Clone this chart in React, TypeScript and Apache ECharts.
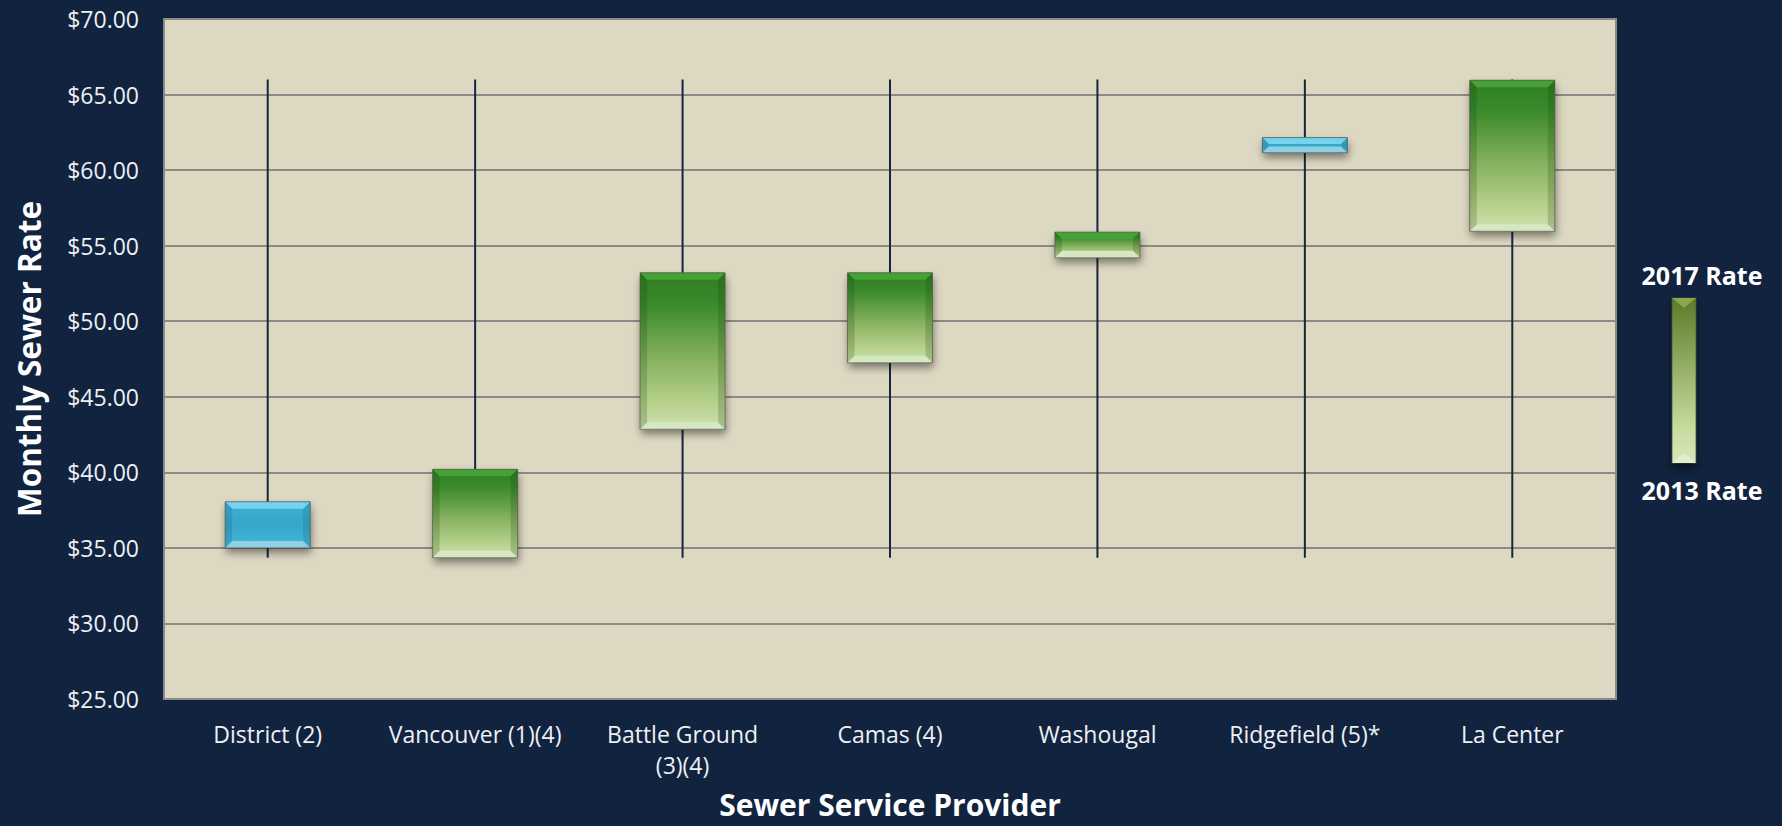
import React, { useEffect, useRef } from "react";
import * as echarts from "echarts";

const categories = [
  "District (2)",
  "Vancouver (1)(4)",
  "Battle Ground\n(3)(4)",
  "Camas (4)",
  "Washougal",
  "Ridgefield (5)*",
  "La Center",
];
const rate2013 = [38.05, 34.35, 42.85, 47.25, 54.2, 62.15, 55.95];
const rate2017 = [35.0, 40.2, 53.2, 53.2, 55.9, 61.15, 65.95];
const lowValues = [34.35, 34.35, 34.35, 34.35, 34.35, 34.35, 34.35];
const highValues = [66.0, 66.0, 66.0, 66.0, 66.0, 66.0, 66.0];
const yTicks = { min: 25, max: 70, interval: 5 };

const FONT = "'Open Sans', 'Noto Sans', sans-serif";

const grad = (stops: [number, string][]) => ({
  type: "linear",
  x: 0,
  y: 0,
  x2: 0,
  y2: 1,
  colorStops: stops.map(([offset, color]) => ({ offset, color })),
});

const GREEN = {
  body: grad([
    [0, "#2f7d22"],
    [0.2, "#3a8a2c"],
    [0.55, "#86b15e"],
    [0.85, "#b9d38f"],
    [1, "#cfe2b2"],
  ]),
  top: "#44a236",
  bottom: "#d6e8c2",
  side: "rgba(20,60,10,0.2)",
};
const BLUE = {
  body: grad([
    [0, "#3fb0d4"],
    [0.5, "#36a6c8"],
    [1, "#45b8dc"],
  ]),
  top: "#74d4f0",
  bottom: "#8fd0e4",
  side: "rgba(10,60,90,0.15)",
};

export default function App() {
  const ref = useRef<HTMLDivElement>(null);
  useEffect(() => {
    document.body.style.margin = "0";
    const chart = echarts.init(ref.current!, null, { renderer: "svg" });
    const data = categories.map((_, i) => [i, lowValues[i], highValues[i], rate2013[i], rate2017[i]]);

    const renderItem = (params: any, api: any) => {
      const idx = api.value(0);
      const low = api.value(1);
      const high = api.value(2);
      const o = api.value(3);
      const c = api.value(4);
      const pLow = api.coord([idx, low]);
      const pHigh = api.coord([idx, high]);
      const pO = api.coord([idx, o]);
      const pC = api.coord([idx, c]);
      const w = api.size([1, 0])[0] * 0.41;
      const px = pLow[0];
      const top = Math.min(pO[1], pC[1]);
      const bot = Math.max(pO[1], pC[1]);
      const h = bot - top;
      const left = px - w / 2;
      const right = px + w / 2;
      const b = Math.min(7, h / 2.4);
      const pal = c >= o ? GREEN : BLUE;
      return {
        type: "group",
        children: [
          {
            type: "line",
            shape: { x1: px, y1: pHigh[1], x2: px, y2: pLow[1] },
            style: { stroke: "#16263f", lineWidth: 2 },
          },
          {
            type: "rect",
            shape: { x: left, y: top, width: w, height: h },
            style: {
              fill: "#6d6d60",
              shadowBlur: 8,
              shadowColor: "rgba(0,0,0,0.45)",
              shadowOffsetX: 1,
              shadowOffsetY: 5,
            },
          },
          {
            type: "rect",
            shape: { x: left, y: top, width: w, height: h },
            style: { fill: pal.body },
          },
          {
            type: "polygon",
            shape: { points: [[left, top], [right, top], [right - b, top + b], [left + b, top + b]] },
            style: { fill: pal.top },
          },
          {
            type: "polygon",
            shape: { points: [[left, bot], [right, bot], [right - b, bot - b], [left + b, bot - b]] },
            style: { fill: pal.bottom },
          },
          {
            type: "polygon",
            shape: { points: [[left, top], [left + b, top + b], [left + b, bot - b], [left, bot]] },
            style: { fill: pal.side },
          },
          {
            type: "polygon",
            shape: { points: [[right, top], [right - b, top + b], [right - b, bot - b], [right, bot]] },
            style: { fill: pal.side },
          },
          {
            type: "rect",
            shape: { x: left, y: top, width: w, height: h },
            style: { fill: "none", stroke: "rgba(90,90,80,0.7)", lineWidth: 1 },
          },
        ],
      };
    };

    const lx = 1672, lw = 24, ly = 298, lh = 165, lb = 10;
    const legendGrad = grad([
      [0, "#5c7a28"],
      [0.45, "#97b26a"],
      [0.8, "#c8dda0"],
      [1, "#d6e6b8"],
    ]);

    chart.setOption({
      animation: false,
      backgroundColor: "#11233f",
      grid: {
        left: 164,
        top: 19,
        right: 166,
        bottom: 127,
        outerBoundsMode: "none",
        containLabel: false,
        show: true,
        backgroundColor: "#ddd8c2",
        borderColor: "#8a8a86",
        borderWidth: 2,
      },
      xAxis: {
        type: "category",
        data: categories,
        axisLine: { show: false },
        axisTick: { show: false },
        axisLabel: { color: "#eef0f4", fontFamily: FONT, fontSize: 23, margin: 19, lineHeight: 31, interval: 0 },
        name: "Sewer Service Provider",
        nameLocation: "middle",
        nameGap: 90,
        nameTextStyle: { color: "#ffffff", fontFamily: FONT, fontSize: 30, fontWeight: "bold", lineHeight: 30 },
      },
      yAxis: {
        type: "value",
        min: yTicks.min,
        max: yTicks.max,
        interval: yTicks.interval,
        axisLine: { show: false },
        axisTick: { show: false },
        splitLine: { lineStyle: { color: "#8a8a86", width: 2 } },
        axisLabel: {
          color: "#eef0f4",
          fontFamily: FONT,
          fontSize: 23,
          margin: 25,
          formatter: (v: number) => "$" + v.toFixed(2),
        },
        name: "Monthly Sewer Rate",
        nameLocation: "middle",
        nameRotate: 90,
        nameGap: 120,
        nameTextStyle: { color: "#ffffff", fontFamily: FONT, fontSize: 31.5, fontWeight: "bold", lineHeight: 32 },
      },
      series: [
        {
          type: "custom",
          renderItem,
          data,
          encode: { x: 0, y: [1, 2, 3, 4] },
        },
      ],
      graphic: [
        {
          type: "text",
          x: 1702,
          y: 275,
          style: { text: "2017 Rate", fill: "#ffffff", font: `bold 25px ${FONT}`, align: "center", verticalAlign: "middle" },
        },
        {
          type: "rect",
          shape: { x: lx, y: ly, width: lw, height: lh },
          style: { fill: "#3a4a2a", shadowBlur: 8, shadowColor: "rgba(0,0,0,0.6)", shadowOffsetY: 5 },
        },
        {
          type: "rect",
          shape: { x: lx, y: ly, width: lw, height: lh },
          style: { fill: legendGrad, stroke: "rgba(80,80,70,0.8)", lineWidth: 1 },
        },
        {
          type: "polygon",
          shape: { points: [[lx, ly], [lx + lw, ly], [lx + lw / 2, ly + lb]] },
          style: { fill: "#8aa84a" },
        },
        {
          type: "polygon",
          shape: { points: [[lx, ly + lh], [lx + lw, ly + lh], [lx + lw / 2, ly + lh - lb]] },
          style: { fill: "#e2eecb" },
        },
        {
          type: "text",
          x: 1702,
          y: 490,
          style: { text: "2013 Rate", fill: "#ffffff", font: `bold 25px ${FONT}`, align: "center", verticalAlign: "middle" },
        },
      ],
    });
    return () => chart.dispose();
  }, []);
  return <div ref={ref} style={{ position: "fixed", left: 0, top: 0, width: 1782, height: 826 }} />;
}
